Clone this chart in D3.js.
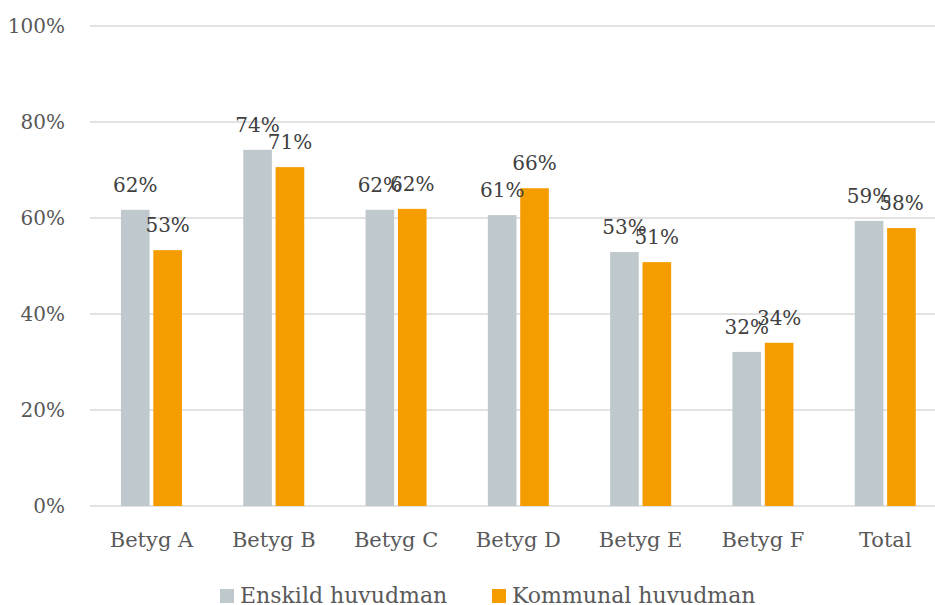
<!DOCTYPE html>
<html>
<head>
<meta charset="utf-8">
<script src="https://cdn.jsdelivr.net/npm/d3@7"></script>
<style>
  body { margin: 0; background: #fff; }
  svg text { font-family: "DejaVu Serif", "Liberation Serif", serif; }
</style>
</head>
<body>
<div id="chart"></div>
<script>
// values
var categories = ["Betyg A", "Betyg B", "Betyg C", "Betyg D", "Betyg E", "Betyg F", "Total"];
var seriesNames = ["Enskild huvudman", "Kommunal huvudman"];
var enskild = [0.617, 0.742, 0.617, 0.606, 0.529, 0.321, 0.594];
var kommunal = [0.533, 0.706, 0.619, 0.662, 0.508, 0.340, 0.579];
var yTicks = [0, 0.2, 0.4, 0.6, 0.8, 1.0];
var colors = ["#bfc9cd", "#f59c00"];

var width = 935, height = 605;
var margin = { top: 26, right: 0, bottom: 99, left: 90 };
var w = width - margin.left - margin.right,
    h = height - margin.top - margin.bottom;

var svg = d3.select("#chart").append("svg")
  .attr("width", width)
  .attr("height", height);

var g = svg.append("g")
  .attr("transform", "translate(" + margin.left + "," + margin.top + ")");

// category bands are a bit wider than the visible plot (chart is cropped on the right)
var x = d3.scaleBand().domain(categories).range([0.3, 0.3 + 7 * 122.3]).padding(0);
var x1 = d3.scaleBand().domain(d3.range(2)).range([-30.5, 30.5]).paddingInner(0.115);
var y = d3.scaleLinear().domain([0, 1]).range([h, 0]);

// gridlines
g.selectAll(".grid")
  .data(yTicks)
  .enter().append("line")
    .attr("x1", 0).attr("x2", w)
    .attr("y1", function (d) { return y(d); })
    .attr("y2", function (d) { return y(d); })
    .attr("stroke", "#d9d9d9")
    .attr("stroke-width", 1.5);

// y axis labels
var yAxis = g.append("g")
  .call(d3.axisLeft(y).tickValues(yTicks).tickFormat(d3.format(".0%")).tickSize(0).tickPadding(25));
yAxis.select(".domain").remove();
yAxis.selectAll("text").attr("fill", "#595959").style("font-size", "20px");

// x axis labels
var xAxis = g.append("g")
  .attr("transform", "translate(0," + h + ")")
  .call(d3.axisBottom(x).tickSize(0).tickPadding(26));
xAxis.select(".domain").remove();
xAxis.selectAll("text").attr("fill", "#595959").style("font-size", "21px");

var data = categories.map(function (c, i) {
  return { cat: c, vals: [enskild[i], kommunal[i]] };
});

var groups = g.selectAll(".grp")
  .data(data)
  .enter().append("g")
    .attr("transform", function (d) { return "translate(" + (x(d.cat) + x.bandwidth() / 2) + ",0)"; });

groups.selectAll("rect")
  .data(function (d) { return d.vals; })
  .enter().append("rect")
    .attr("x", function (d, i) { return x1(i); })
    .attr("width", x1.bandwidth())
    .attr("y", function (d) { return y(d); })
    .attr("height", function (d) { return h - y(d); })
    .attr("fill", function (d, i) { return colors[i]; });

groups.selectAll(".lbl")
  .data(function (d) { return d.vals; })
  .enter().append("text")
    .attr("x", function (d, i) { return x1(i) + x1.bandwidth() / 2; })
    .attr("y", function (d) { return y(d) - 18; })
    .attr("text-anchor", "middle")
    .attr("fill", "#404040")
    .style("font-size", "20px")
    .text(function (d) { return Math.round(d * 100) + "%"; });

// legend
var legendX = [220, 492];
var legend = svg.selectAll(".legend")
  .data(seriesNames)
  .enter().append("g")
    .attr("transform", function (d, i) { return "translate(" + legendX[i] + ",589)"; });
legend.append("rect")
  .attr("width", 14).attr("height", 14)
  .attr("fill", function (d, i) { return colors[i]; });
legend.append("text")
  .attr("x", 20).attr("y", 14)
  .attr("fill", "#595959")
  .style("font-size", "22px")
  .text(function (d) { return d; });
</script>
</body>
</html>
